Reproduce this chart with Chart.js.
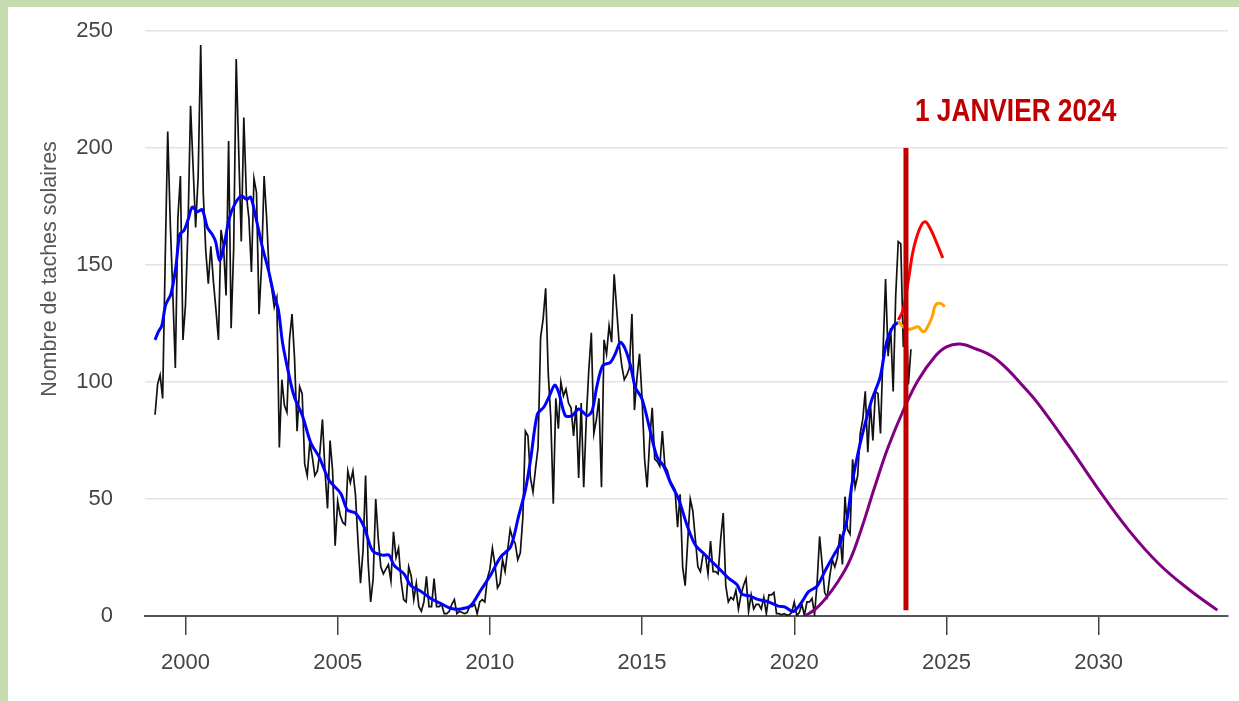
<!DOCTYPE html>
<html lang="fr">
<head>
<meta charset="utf-8">
<script src="https://cdn.jsdelivr.net/npm/chart.js@4.4.0/dist/chart.umd.min.js"></script>
<style>
  html, body { margin: 0; padding: 0; background: #c6dcae; overflow: hidden; }
  #cadre { position: absolute; left: 8px; top: 7px; width: 1231px; height: 694px; background: #fff; }
  #graphique { position: absolute; left: 0; top: 0; }
</style>
</head>
<body>
<div id="cadre"></div>
<canvas id="graphique" width="1239" height="701"></canvas>
<script>
// Donnees ==========================
// taches solaires mensuelles, a partir de janvier 1999
const debutAnnee = 1999;
const taches = [
    86, 99, 103, 93, 152, 207, 168, 138, 106, 170, 188, 118,
    133, 166, 218, 192, 166, 188, 244, 181, 156, 142, 158, 143,
    131, 118, 165, 158, 137, 203, 123, 157, 238, 198, 160, 213,
    180, 170, 147, 187, 181, 129, 150, 188, 170, 146, 140, 132,
    136, 72, 101, 90, 87, 118, 129, 110, 79, 98, 95, 65,
    60, 74, 68, 60, 62, 70, 84, 62, 46, 75, 62, 30,
    49, 43, 40, 39, 62, 57, 62, 52, 32, 14, 28, 60,
    23, 6, 16, 50, 33, 21, 18, 20, 22, 15, 36, 25,
    29, 15, 7, 6, 21, 17, 7, 14, 4, 2, 6, 17,
    4, 4, 16, 4, 4, 5, 1, 1, 2, 5, 7, 1,
    2, 1.5, 1, 1.5, 4, 4, 5, 1, 6, 7, 6, 16,
    20, 29, 22, 12, 14, 24, 19, 28, 37, 33, 31, 24,
    27, 42, 79, 77, 59, 53, 63, 72, 119, 127, 140, 104,
    85, 48, 93, 80, 100, 94, 97, 91, 89, 77, 90, 59,
    91, 55, 84, 105, 121, 78, 84, 93, 55, 118, 112, 124,
    117, 146, 131, 116, 107, 101, 103, 106, 129, 88, 102, 112,
    93, 67, 55, 75, 89, 67, 66, 64, 79, 64, 62, 58,
    56, 54, 38, 52, 21, 13, 32, 50, 45, 33, 21, 19,
    26, 26, 18, 32, 19, 19, 18, 33, 44, 13, 6, 8,
    7, 11, 3, 9, 13, 16, 2, 9, 3, 5, 5, 3,
    8, 1, 9, 9, 10, 1, 1, 0.5, 1, 0.4, 0.5, 1.5,
    6, 0.2, 1.5, 5, 0.2, 6, 6, 7.5, 0.6, 14, 34, 22,
    10, 8, 17, 24, 21, 25, 35, 22, 51, 37, 35, 67,
    55, 60, 78, 84, 96, 70, 91, 75, 96, 95, 78, 113,
    144, 111, 123, 96, 137, 160, 159, 115, 134, 99, 114
];

// moyenne lissee (bleu)
const anneesLisse = [
    1999.00, 1999.11, 1999.22, 1999.35, 1999.52, 1999.68, 1999.81, 1999.95, 2000.09, 2000.22,
    2000.39, 2000.55, 2000.72, 2000.88, 2000.99, 2001.12, 2001.26, 2001.43, 2001.62, 2001.84,
    2002.01, 2002.14, 2002.30, 2002.52, 2002.74, 2002.90, 2003.05, 2003.19, 2003.41, 2003.57,
    2003.85, 2004.12, 2004.39, 2004.72, 2005.10, 2005.32, 2005.59, 2005.87, 2006.14, 2006.47,
    2006.69, 2006.85, 2007.18, 2007.40, 2007.73, 2008.06, 2008.38, 2008.71, 2009.04, 2009.37,
    2009.70, 2010.02, 2010.35, 2010.68, 2010.95, 2011.17, 2011.34, 2011.56, 2011.77, 2011.96,
    2012.13, 2012.26, 2012.48, 2012.70, 2012.92, 2013.20, 2013.36, 2013.52, 2013.71, 2013.96,
    2014.12, 2014.29, 2014.45, 2014.62, 2014.78, 2015.00, 2015.27, 2015.49, 2015.71, 2015.93,
    2016.20, 2016.48, 2016.75, 2017.02, 2017.30, 2017.57, 2017.84, 2018.12, 2018.28, 2018.55,
    2018.83, 2019.10, 2019.48, 2019.70, 2019.97, 2020.25, 2020.47, 2020.74, 2021.01, 2021.29,
    2021.51, 2021.73, 2021.89, 2022.11, 2022.33, 2022.55, 2022.82, 2023.04, 2023.26, 2023.42
];
const valeursLisse = [
    118, 121.5, 124, 133, 137.5, 148.7, 163, 164.7, 169.5, 174.7,
    172.8, 173.6, 166, 163, 160, 152, 158, 169.5, 176, 179.5,
    178, 179, 171, 158, 147, 137.5, 131, 116.7, 102.4, 93.9,
    85.3, 73.9, 68, 58, 52.4, 45.3, 43.9, 38, 28, 26,
    26, 21.7, 18, 13, 10.6, 7.5, 5.4, 3.3, 3, 4.4,
    11, 17.4, 25.2, 29.5, 43, 54, 67, 86.3, 89.2, 94.2,
    98.7, 95.6, 85.6, 85.6, 88.5, 85.6, 87.7, 98.4, 107, 108.4,
    112, 117, 114, 107, 97.7, 92.7, 79, 68, 64, 57,
    50, 38.7, 30.3, 26.8, 23.2, 19.7, 16.2, 13.4, 9.4, 8.5,
    7, 6.3, 4.2, 3.8, 1.9, 6, 10.4, 12.6, 19.2, 25.8,
    31, 41, 55.9, 70.5, 82.3, 92.5, 102, 117.4, 124, 125.5
];

// previsions
const anneesRouge = [2023.42, 2023.58, 2023.75, 2023.91, 2024.13, 2024.30, 2024.46, 2024.68, 2024.88];
const valeursRouge = [126.5, 131, 143.6, 156.4, 165.8, 168.5, 165.8, 159.4, 153];

const anneesOrange = [2023.42, 2023.58, 2023.75, 2023.91, 2024.07, 2024.23, 2024.34, 2024.53, 2024.64, 2024.80, 2024.95];
const valeursOrange = [126, 123.6, 122.5, 123, 123.6, 121.5, 122.6, 127.9, 132.9, 133.6, 132.2];

const anneesViolet = [2020.35, 2020.7, 2021.0, 2021.4, 2021.8, 2022.2, 2022.64, 2023.08, 2023.62, 2024.08,
                      2024.63, 2025.0, 2025.45, 2026.0, 2026.5, 2027.0, 2027.5, 2028.0, 2029.0, 2030.0,
                      2031.0, 2032.0, 2033.0, 2033.9];
const valeursViolet = [0, 3, 7, 14, 23, 37, 55, 72, 89, 101,
                       111, 115, 116.2, 114, 111, 105.5, 98.5, 91, 73, 54,
                       36.5, 22, 11, 2.5];

// repere vertical
const anneeRepere = 2023.67;
const repereBas = 2.5;
const repereHaut = 200;
const texteRepere = "1 JANVIER 2024";
const titreAxeY = "Nombre de taches solaires";

const ticksX = [2000, 2005, 2010, 2015, 2020, 2025, 2030];
const ticksY = [0, 50, 100, 150, 200, 250];

// Construction des series ==========================
const paires = (xs, ys) => xs.map((v, i) => ({ x: v, y: ys[i] }));
const pointsTaches = taches.map((v, i) => ({ x: debutAnnee + i / 12, y: v }));

const police = "'Liberation Sans', Arial, sans-serif";

const annotations = {
    id: "annotations",
    afterDraw(chart) {
        const { ctx, scales: { x, y } } = chart;
        // texte du repere
        ctx.save();
        ctx.fillStyle = "#c00000";
        ctx.font = "bold 32px " + police;
        ctx.textBaseline = "middle";
        ctx.translate(x.getPixelForValue(anneeRepere) + 9, y.getPixelForValue(215.5));
        ctx.scale(0.82, 1);
        ctx.fillText(texteRepere, 0, 0);
        ctx.restore();
        // titre axe Y
        ctx.save();
        ctx.fillStyle = "#555";
        ctx.font = "21.5px " + police;
        ctx.textAlign = "center";
        ctx.textBaseline = "middle";
        ctx.translate(50, 269);
        ctx.rotate(-Math.PI / 2);
        ctx.fillText(titreAxeY, 0, 0);
        ctx.restore();
    }
};

// Graphique ==========================
const ctx = document.getElementById("graphique").getContext("2d");

const chart = new Chart(ctx, {
    type: "line",
    data: {
        datasets: [
            {
                label: "repere",
                data: [{ x: anneeRepere, y: repereBas }, { x: anneeRepere, y: repereHaut }],
                borderColor: "#c00000",
                borderWidth: 5,
                borderCapStyle: "butt"
            },
            {
                label: "prevision haute",
                data: paires(anneesRouge, valeursRouge),
                borderColor: "#ff0000",
                borderWidth: 3,
                tension: 0.4
            },
            {
                label: "prevision moyenne",
                data: paires(anneesOrange, valeursOrange),
                borderColor: "#ffa500",
                borderWidth: 3,
                tension: 0.4
            },
            {
                label: "lissage",
                data: paires(anneesLisse, valeursLisse),
                borderColor: "#0000ff",
                borderWidth: 3,
                tension: 0.3
            },
            {
                label: "prevision NOAA",
                data: paires(anneesViolet, valeursViolet),
                borderColor: "#800080",
                borderWidth: 3,
                tension: 0.4
            },
            {
                label: "taches",
                data: pointsTaches,
                borderColor: "#111111",
                borderWidth: 1.7,
                tension: 0
            }
        ]
    },
    options: {
        responsive: false,
        animation: false,
        parsing: false,
        elements: { point: { radius: 0 } },
        layout: { padding: { top: 31, right: 11, left: 0, bottom: 0 } },
        plugins: {
            legend: { display: false },
            tooltip: { enabled: false }
        },
        scales: {
            x: {
                type: "linear",
                min: 1998.67,
                max: 2034.25,
                afterBuildTicks: s => { s.ticks = ticksX.map(v => ({ value: v })); },
                afterFit: s => { s.height = 85; },
                ticks: {
                    callback: v => String(v),
                    color: "#444",
                    font: { family: police, size: 22 },
                    padding: 15,
                    maxRotation: 0
                },
                grid: {
                    drawOnChartArea: false,
                    drawTicks: true,
                    tickLength: 19,
                    color: "#444",
                    lineWidth: 1.5
                },
                border: { display: true, color: "#555", width: 2 }
            },
            y: {
                min: 0,
                max: 250,
                afterBuildTicks: s => { s.ticks = ticksY.map(v => ({ value: v })); },
                afterFit: s => {
                    s.width = 145;
                    s.paddingTop = 0;
                    s.paddingBottom = 0;
                },
                ticks: {
                    color: "#444",
                    font: { family: police, size: 22 },
                    padding: 32
                },
                grid: {
                    color: "#e3e3e3",
                    lineWidth: 1.5,
                    drawTicks: false
                },
                border: { display: false }
            }
        }
    },
    plugins: [annotations]
});
</script>
</body>
</html>
